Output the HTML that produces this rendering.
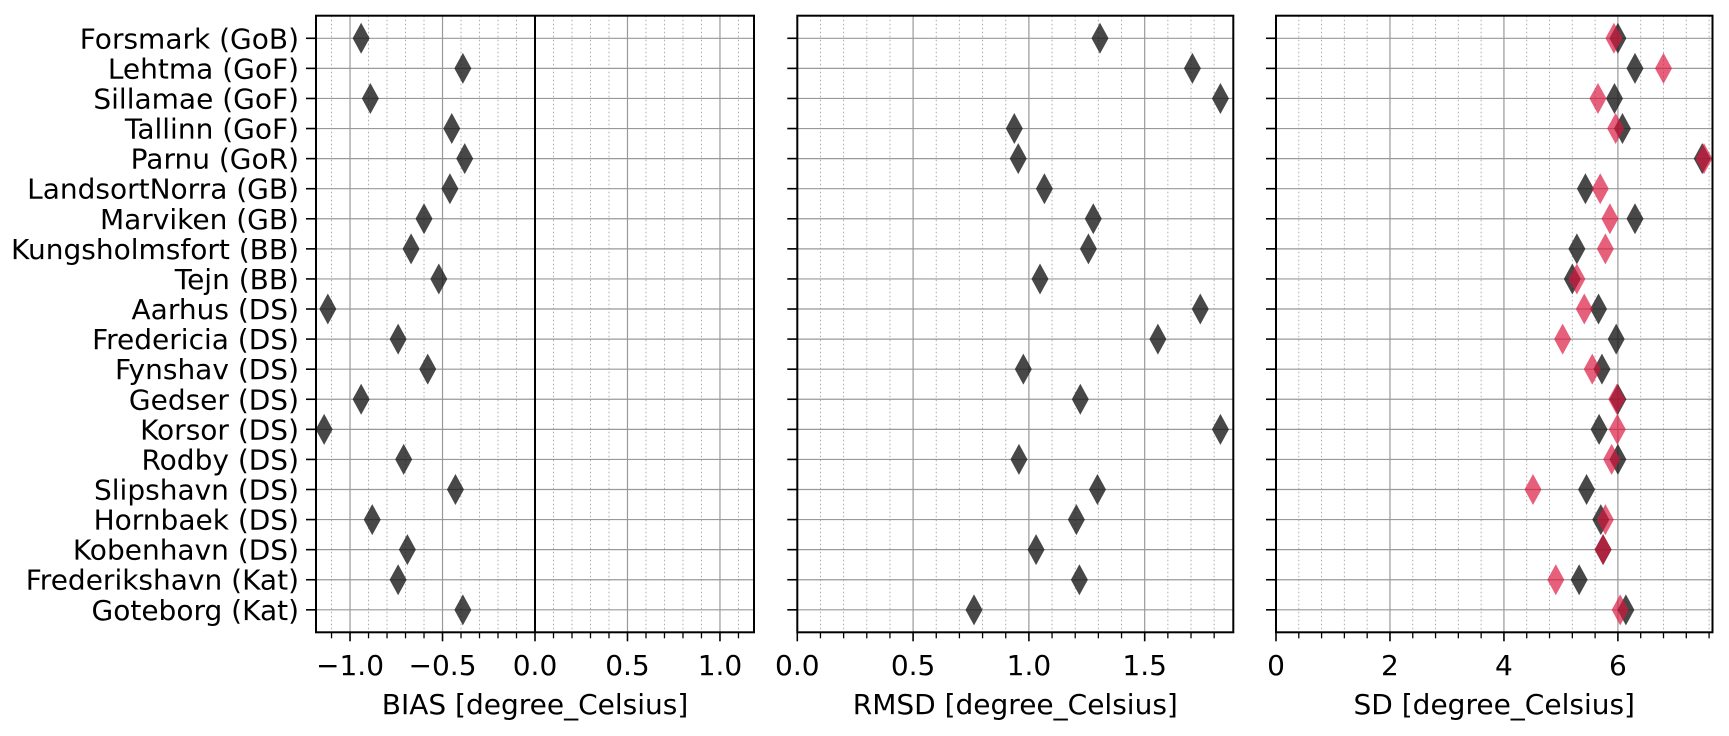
<!DOCTYPE html>
<html><head><meta charset="utf-8"><style>
html,body{margin:0;padding:0;background:#fff;}
svg{display:block;font-family:"DejaVu Sans","Liberation Sans",sans-serif;}
</style></head><body>
<svg id="chart" width="1729" height="736" viewBox="0 0 1729 736" xmlns="http://www.w3.org/2000/svg"></svg>
<script>
const stations = ["Forsmark (GoB)","Lehtma (GoF)","Sillamae (GoF)","Tallinn (GoF)","Parnu (GoR)","LandsortNorra (GB)","Marviken (GB)","Kungsholmsfort (BB)","Tejn (BB)","Aarhus (DS)","Fredericia (DS)","Fynshav (DS)","Gedser (DS)","Korsor (DS)","Rodby (DS)","Slipshavn (DS)","Hornbaek (DS)","Kobenhavn (DS)","Frederikshavn (Kat)","Goteborg (Kat)"];
const biasValues = [-0.94,-0.39,-0.89,-0.45,-0.38,-0.46,-0.60,-0.67,-0.52,-1.12,-0.74,-0.58,-0.94,-1.14,-0.71,-0.43,-0.88,-0.69,-0.74,-0.39];
const rmsdValues = [1.307,1.706,1.827,0.937,0.954,1.067,1.278,1.257,1.048,1.740,1.557,0.976,1.222,1.827,0.957,1.296,1.205,1.031,1.218,0.763];
const sdModelValues = [6.00,6.30,5.94,6.08,7.48,5.43,6.30,5.28,5.20,5.66,5.97,5.72,6.00,5.67,6.00,5.45,5.70,5.74,5.32,6.14];
const sdObsValues = [5.93,6.80,5.65,5.96,7.51,5.69,5.86,5.78,5.28,5.41,5.03,5.55,5.98,5.99,5.89,4.51,5.78,5.74,4.91,6.04];
const biasTicks = [-1.0,-0.5,0.0,0.5,1.0];
const biasTickLabels = ["\u22121.0","\u22120.5","0.0","0.5","1.0"];
const rmsdTicks = [0.0,0.5,1.0,1.5];
const rmsdTickLabels = ["0.0","0.5","1.0","1.5"];
const sdTicks = [0,2,4,6];
const sdTickLabels = ["0","2","4","6"];

const NS="http://www.w3.org/2000/svg";
const svg=document.getElementById('chart');
const TOP=15.7, BOT=632.3;
const FS_Y=28, FS_X=28;
function yRow(i){return 38.3+30.08*i;}
function mk(tag,attrs,parent){const e=document.createElementNS(NS,tag);for(const k in attrs)e.setAttribute(k,attrs[k]);(parent||svg).appendChild(e);return e;}

const panels=[
 {name:'bias',x0:316,x1:754,vmin:-1.184,vmax:1.184,ticks:biasTicks,labels:biasTickLabels,minor:0.1,title:'BIAS [degree_Celsius]',series:[{vals:biasValues,color:'rgba(20,20,20,0.78)',nm:'bias-marker'}],zero:true,ylabels:true},
 {name:'rmsd',x0:797.3,x1:1233.3,vmin:0,vmax:1.8826,ticks:rmsdTicks,labels:rmsdTickLabels,minor:0.1,title:'RMSD [degree_Celsius]',series:[{vals:rmsdValues,color:'rgba(20,20,20,0.78)',nm:'rmsd-marker'}]},
 {name:'sd',x0:1276,x1:1712.5,vmin:0,vmax:7.66,ticks:sdTicks,labels:sdTickLabels,minor:0.4,title:'SD [degree_Celsius]',series:[{vals:sdModelValues,color:'rgba(20,20,20,0.78)',nm:'sd-model-marker'},{vals:sdObsValues,color:'rgba(220,20,60,0.68)',nm:'sd-obs-marker'}]}
];

panels.forEach(p=>{
 const g=mk('g',{});
 
 
 const sx=v=>p.x0+(v-p.vmin)/(p.vmax-p.vmin)*(p.x1-p.x0);
 const n0=Math.ceil(p.vmin/p.minor-1e-6), n1=Math.floor(p.vmax/p.minor+1e-6);
 for(let k=n0;k<=n1;k++){
  const v=k*p.minor; const x=sx(v);
  const isMajor=p.ticks.some(t=>Math.abs(t-v)<1e-6);
  if(!isMajor){
   const l=mk('line',{x1:x,x2:x,y1:TOP,y2:BOT,stroke:'#aaa','stroke-width':1,'stroke-dasharray':'1.5,2.5'},g);
   
   
   const t=mk('line',{x1:x,x2:x,y1:BOT,y2:BOT+6,stroke:'#000','stroke-width':1.3},g);
   
   
  }
 }
 p.ticks.forEach((v,i)=>{
  const x=sx(v);
  const l=mk('line',{x1:x,x2:x,y1:TOP,y2:BOT,stroke:'#999','stroke-width':1.2},g);
  
  
  const t=mk('line',{x1:x,x2:x,y1:BOT,y2:BOT+9,stroke:'#000','stroke-width':1.6},g);
  
  
  const tx=mk('text',{x:x,y:675,'text-anchor':'middle','font-size':FS_X,fill:'#000'},g);
  tx.textContent=p.labels[i];
  
  
 });
 stations.forEach((s,i)=>{
  const y=yRow(i);
  const l=mk('line',{x1:p.x0,x2:p.x1,y1:y,y2:y,stroke:'#999','stroke-width':1.2},g);
  
  
  const t=mk('line',{x1:p.x0-10,x2:p.x0,y1:y,y2:y,stroke:'#000','stroke-width':1.6},g);
  
  
  if(p.ylabels){
   const tx=mk('text',{x:299,y:y+10,'text-anchor':'end','font-size':FS_Y,fill:'#000'},g);
   tx.textContent=s;
   
   
  }
 });
 if(p.zero){
  const z=mk('line',{x1:sx(0),x2:sx(0),y1:TOP,y2:BOT,stroke:'#000','stroke-width':2},g);
  
  
 }
 p.series.forEach(ser=>{
  ser.vals.forEach((v,i)=>{
   const x=sx(v), y=yRow(i);
   const d=mk('path',{d:`M${x},${y-15.5} L${x+8.5},${y} L${x},${y+15.5} L${x-8.5},${y} Z`,fill:ser.color},g);
   
   
  });
 });
 const fr=mk('rect',{x:p.x0,y:TOP,width:p.x1-p.x0,height:BOT-TOP,fill:'none',stroke:'#000','stroke-width':2},g);
 
 
 const tt=mk('text',{x:(p.x0+p.x1)/2,y:714,'text-anchor':'middle','font-size':FS_X,fill:'#000'},g);
 tt.textContent=p.title;
 
 
});
</script>
</body></html>
